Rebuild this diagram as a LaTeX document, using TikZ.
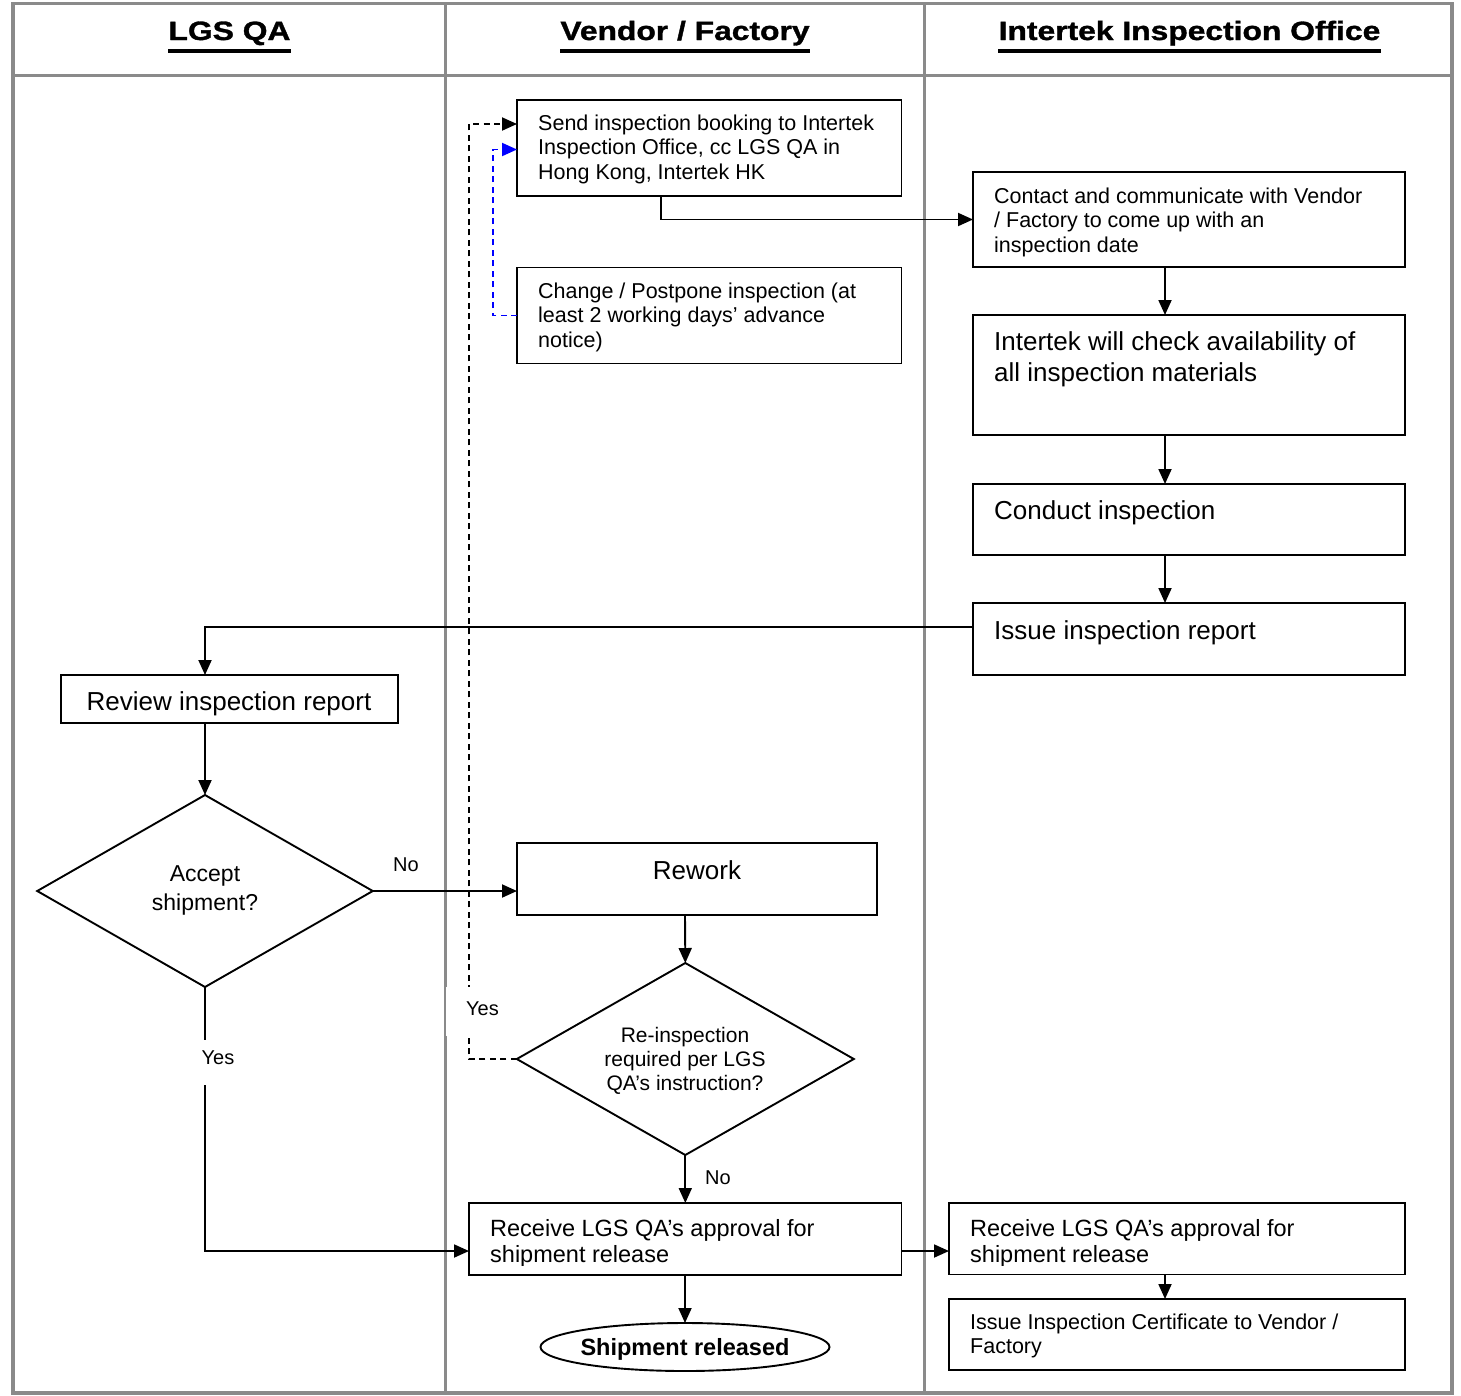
\documentclass[tikz,border=0pt]{standalone}
\usepackage{fontspec}
\setmainfont{Liberation Sans}
\newfontfamily\hdrfont[FakeBold=1.2]{Liberation Sans Bold}
\usepackage{graphicx}
\usetikzlibrary{arrows.meta,shapes.geometric}
\definecolor{gridgray}{HTML}{8A8A8A}
\newcommand\Ltxt[1]{\vtop{\halign{##\hfil\cr#1\crcr}}}
\newcommand\Ctxt[1]{\vtop{\halign{\hfil##\hfil\cr#1\crcr}}}
\begin{document}
\begin{tikzpicture}[x=1pt,y=-1pt,
  grid/.style={draw=gridgray,line width=3.5pt},
  box/.style={draw,line width=1.9pt,anchor=north west,inner sep=0pt,outer sep=0pt},
  shp/.style={draw,line width=1.9pt,inner sep=0pt,outer sep=0pt},
  txt/.style={anchor=base west,inner sep=0pt},
  ctxt/.style={anchor=base,inner sep=0pt},
  small/.style={font=\fontsize{21.5}{24.6}\selectfont},
  large/.style={font=\fontsize{26}{31}\selectfont},
  mid/.style={font=\fontsize{23.5}{26}\selectfont},
  lbl/.style={anchor=base,inner sep=0pt,font=\fontsize{20}{24}\selectfont},
  hdr/.style={anchor=base,inner sep=0pt,font=\hdrfont\fontsize{26.5}{30}\selectfont},
  conn/.style={line width=1.9pt,-{Triangle[length=15pt,width=13pt]}},
  dconn/.style={conn,dash pattern=on 6pt off 4.5pt},
  bconn/.style={line width=1.9pt,blue,dash pattern=on 6pt off 4.5pt,-{Triangle[length=15pt,width=13pt]}}
]
\useasboundingbox (0,0) rectangle (1461,1395);
\fill[white] (0,0) rectangle (1461,1395);

% grid
\draw[grid] (13,3.3) rectangle (1452,1393);
\draw[grid] (13,75.7) -- (1452,75.7);
\draw[grid] (445.5,3.3) -- (445.5,1393);
\draw[grid] (924.5,3.3) -- (924.5,1393);

% headers
\node[hdr] (h1) at (229.5,40) {\scalebox{1.2}[1]{LGS QA}};
\node[hdr] (h2) at (685,40) {\scalebox{1.2}[1]{Vendor / Factory}};
\node[hdr] (h3) at (1189.5,40) {\scalebox{1.2}[1]{Intertek Inspection Office}};
\foreach \h in {h1,h2,h3}
  \draw[line width=3.3pt] ([yshift=-11pt]\h.base west) -- ([yshift=-11pt]\h.base east);

% axes
\coordinate (ax1) at (205,0);
\coordinate (ax2) at (685,0);
\coordinate (ax3) at (1165,0);
\coordinate (axs) at (661,0);
\coordinate (dashx) at (469,0);
\coordinate (bluex) at (493,0);
\coordinate (rowrep) at (0,627);
\coordinate (rowrel) at (0,1251);

% boxes
\node[box,minimum width=384.5pt,minimum height=96pt] (send) at (517,100) {};
\node[box,minimum width=384.5pt,minimum height=96pt] (change) at (517,267.5) {};
\node[box,minimum width=432pt,minimum height=95.6pt] (contact) at (973,171.7) {};
\node[box,minimum width=432pt,minimum height=120pt] (check) at (973,315) {};
\node[box,minimum width=432pt,minimum height=71pt] (conduct) at (973,484) {};
\node[box,minimum width=432pt,minimum height=72pt] (issue) at (973,603) {};
\node[box,minimum width=336.7pt,minimum height=48pt] (review) at (61,675) {};
\node[box,minimum width=360pt,minimum height=72pt] (rework) at (517,843) {};
\node[box,minimum width=432.5pt,minimum height=72pt] (recv) at (469,1203) {};
\node[box,minimum width=456pt,minimum height=71.5pt] (recvI) at (949,1203) {};
\node[box,minimum width=456pt,minimum height=71pt] (cert) at (949,1299) {};
\node[shp,diamond,minimum width=335.5pt,minimum height=192pt] (accept) at (205,891) {};
\node[shp,diamond,minimum width=337pt,minimum height=192pt] (reinsp) at (685.3,1059) {};
\node[shp,ellipse,minimum width=289pt,minimum height=48pt] (ship) at (685,1347) {};

% texts
\node[txt,small] (sendt) at (538,130) {\Ltxt{Send inspection booking to Intertek\cr Inspection Office, cc LGS QA in\cr Hong Kong, Intertek HK}};
\node[txt,small] (changet) at (538,298.3) {\Ltxt{Change / Postpone inspection (at\cr least 2 working days’ advance\cr notice)}};
\node[txt,small] (contactt) at (994,203.3) {\Ltxt{Contact and communicate with Vendor\cr / Factory to come up with an\cr inspection date}};
\node[txt,large] (checkt) at (994,350.7) {\Ltxt{Intertek will check availability of\cr all inspection materials}};
\node[txt,large] (conductt) at (994,519) {Conduct inspection};
\node[txt,large] (issuet) at (994,639) {Issue inspection report};
\begin{scope}
  \clip (61,675) rectangle (398,715);
  \node[ctxt,large] (reviewt) at (229,710) {Review inspection report};
\end{scope}
\node[ctxt,large] (reworkt) at (697,879) {Rework};
\node[ctxt,font=\fontsize{23}{28.3}\selectfont] (acceptt) at (205,881.7) {\Ctxt{Accept\cr shipment?}};
\node[ctxt,font=\fontsize{21}{24.3}\selectfont] (reinspt) at (685,1042.3) {\Ctxt{Re-inspection\cr required per LGS\cr QA’s instruction?}};
\begin{scope}
  \clip (469,1203) rectangle (902,1265);
  \node[txt,mid] (recvt) at (490,1236.7) {\Ltxt{Receive LGS QA’s approval for\cr shipment release}};
\end{scope}
\begin{scope}
  \clip (949,1203) rectangle (1405,1265);
  \node[txt,mid] (recvIt) at (970,1236.7) {\Ltxt{Receive LGS QA’s approval for\cr shipment release}};
\end{scope}
\node[txt,small] (certt) at (970,1329.3) {\Ltxt{Issue Inspection Certificate to Vendor /\cr Factory}};
\node[ctxt,font=\bfseries\fontsize{23.5}{28}\selectfont] (shipt) at (685,1355) {Shipment released};

% connectors
\draw[conn] (send.south -| axs) |- (contact.west);
\draw[conn] (contact.south -| ax3) -- (check.north -| ax3);
\draw[conn] (check.south -| ax3) -- (conduct.north -| ax3);
\draw[conn] (conduct.south -| ax3) -- (issue.north -| ax3);
\draw[conn] (issue.west |- rowrep) -| (review.north -| ax1);
\draw[conn] (review.south -| ax1) -- (accept.north);
\draw[conn] (accept.east) -- (rework.west |- accept.east);
\draw[conn] (rework.south -| ax2) -- (reinsp.north);
\draw[conn] (reinsp.south) -- (recv.north -| reinsp.south);
\draw[conn] (accept.south) |- (recv.west |- rowrel);
\draw[conn] (recv.east |- rowrel) -- (recvI.west |- rowrel);
\draw[conn] (recvI.south -| ax3) -- (cert.north -| ax3);
\draw[conn] (recv.south -| ax2) -- (ship.north);
\draw[dconn] (reinsp.west) -- (reinsp.west -| dashx) |- ([yshift=24pt]send.west);
\draw[bconn] (change.west) -- (change.west -| bluex) |- ([yshift=-1.5pt]send.west);

% labels
\fill[white] (445.5,987) rectangle (520,1036);
\fill[white] (190,1040) rectangle (246,1085);
\node[lbl] (no1) at (406,871.7) {No};
\node[lbl] (yes1) at (482.5,1015.7) {Yes};
\node[lbl] (yes2) at (218,1064) {Yes};
\node[lbl] (no2) at (718,1184) {No};
\end{tikzpicture}
\end{document}
